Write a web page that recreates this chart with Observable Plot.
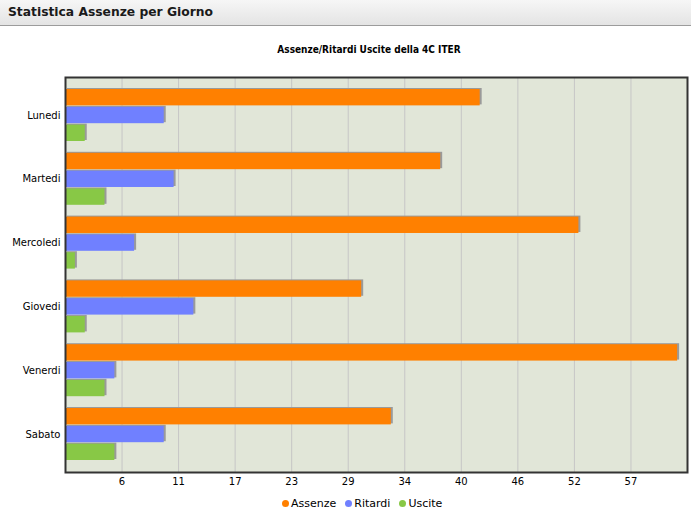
<!DOCTYPE html>
<html><head><meta charset="utf-8">
<script src="https://cdn.jsdelivr.net/npm/d3@7"></script>
<script src="https://cdn.jsdelivr.net/npm/@observablehq/plot@0.6"></script>
<style>
body{margin:0;background:#fff;width:691px;height:511px;overflow:hidden;position:relative;font-family:"DejaVu Sans",sans-serif;}
#header{position:absolute;top:0;left:0;width:691px;height:26px;box-sizing:border-box;border-bottom:1px solid #9c9c9c;background:linear-gradient(#f6f6f6,#e4e4e4);font:bold 12.3px "DejaVu Sans",sans-serif;padding-left:8px;line-height:25px;color:#1a1a1a;}
#title{position:absolute;top:44px;left:58px;width:622px;text-align:center;font:bold 10px "Liberation Sans Narrow","DejaVu Sans Condensed",sans-serif;color:#000;}
#chart{position:absolute;top:60px;left:0;}
#legend{position:absolute;top:497px;left:282px;display:flex;gap:9px;font:11px "DejaVu Sans",sans-serif;color:#000;}
#legend span.item{display:flex;align-items:center;gap:2px;}
#legend span.dot{width:7px;height:7px;border-radius:50%;display:inline-block;}
</style></head>
<body>
<div id="header"></div>
<div id="title"></div>
<div id="chart"></div>
<div id="legend"></div>
<script>
const pageTitle = "Statistica Assenze per Giorno";
const chartTitle = "Assenze/Ritardi Uscite della 4C ITER";
const days = ["Lunedi","Martedi","Mercoledi","Giovedi","Venerdi","Sabato"];
const series = ["Assenze","Ritardi","Uscite"];
const assenze = [42, 38, 52, 30, 62, 33];
const ritardi = [10, 11, 7, 13, 5, 10];
const uscite  = [2, 4, 1, 2, 4, 5];
const colors = ["#ff8000","#7080ff","#88c846"];
const xMax = 63;
const xDivisions = 11;
const xTickLabels = ["6","11","17","23","29","34","40","46","52","57"];

document.getElementById("header").textContent = pageTitle;
document.getElementById("title").textContent = chartTitle;

const values = [assenze, ritardi, uscite];
const ticks = xTickLabels.map((_, i) => (i + 1) * xMax / xDivisions);

// layout
const W = 691, H = 432, mL = 65, mR = 4, mT = 17, mB = 20;
const padIn = 0.185, padOut = 0.188, subPad = 0.08;
const innerH = H - mT - mB;
const band = innerH * (1 - padIn) / (days.length - padIn + 2 * padOut);
const subStep = band / (series.length - subPad);
const subBand = subStep * (1 - subPad);

const barsFor = (j, opts) => Plot.barX(
  days.map((d, i) => ({day: d, series: series[j], value: values[j][i]})),
  {x: "value", y: "day", insetTop: j * subStep, insetBottom: band - j * subStep - subBand, ...opts}
);

const marks = [
  Plot.frame({fill: "#e1e6d8"}),
  Plot.gridX(ticks, {stroke: "#c6c6c6", strokeOpacity: 1})
];
series.forEach((s, j) => marks.push(barsFor(j, {fill: "#9a9a9a", dx: 2, dy: -1})));
series.forEach((s, j) => marks.push(barsFor(j, {fill: "series"})));
marks.push(
  Plot.frame({stroke: "#333", strokeWidth: 2}),
  Plot.axisY({tickSize: 0, tickPadding: 5, label: null, fontSize: 10}),
  Plot.axisX(ticks, {tickSize: 0, tickPadding: 5, label: null, fontSize: 10,
    tickFormat: d => xTickLabels[ticks.indexOf(d)]})
);

const chart = Plot.plot({
  width: W, height: H,
  marginLeft: mL, marginRight: mR, marginTop: mT, marginBottom: mB,
  style: {fontFamily: "DejaVu Sans, sans-serif", fontSize: "10px", color: "#000", background: "transparent"},
  x: {domain: [0, xMax]},
  y: {domain: days, paddingInner: padIn, paddingOuter: padOut, round: false},
  color: {domain: series, range: colors},
  marks
});
document.getElementById("chart").appendChild(chart);

const legend = document.getElementById("legend");
series.forEach((s, i) => {
  const item = document.createElement("span");
  item.className = "item";
  const dot = document.createElement("span");
  dot.className = "dot";
  dot.style.background = colors[i];
  const label = document.createElement("span");
  label.textContent = s;
  item.appendChild(dot); item.appendChild(label);
  legend.appendChild(item);
});
</script>
</body></html>
